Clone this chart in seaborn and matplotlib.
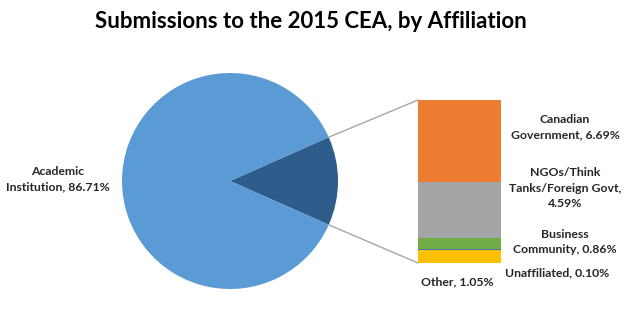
import numpy as np
import pandas as pd
import matplotlib
matplotlib.use("Agg")
import matplotlib.pyplot as plt
from matplotlib.patches import ConnectionPatch
import seaborn as sns

# ---- data ----
pie_labels = ["Other sectors", "Academic Institution"]
pie_values = [13.29, 86.71]

bar_labels = ["Other", "Unaffiliated", "Business Community", "NGOs/Think Tanks/Foreign Govt", "Canadian Government"]
bar_values = [1.05, 0.10, 0.86, 4.59, 6.69]

title = "Submissions to the 2015 CEA, by Affiliation"

# ---- style ----
sns.set_theme(style="white")
plt.rcParams["font.family"] = ["Lato", "DejaVu Sans"]

pie_colors = ["#2E5D8C", "#5B9BD5"]
bar_colors = ["#FFC000", "#4472C4", "#70AD47", "#A5A5A5", "#ED7D31"]

W, H = 640, 309
fig = plt.figure(figsize=(W / 100, H / 100), dpi=100)
fig.patch.set_facecolor("white")

# main axes in pixel coordinates
ax = fig.add_axes([0, 0, 1, 1])
ax.set_xlim(0, W)
ax.set_ylim(0, H)
ax.set_aspect("equal")
ax.axis("off")

cx, cy, r = 230, H - 181, 108
half = pie_values[0] / 100 * 360 / 2
ax.pie(pie_values, colors=pie_colors, startangle=-half, counterclock=True,
       center=(cx, cy), radius=r, wedgeprops=dict(linewidth=0), frame=True)
ax.set_xlim(0, W)
ax.set_ylim(0, H)
ax.axis("off")

# bar-of-pie axes
bl, br, bt, bb = 418, 501, 100, 263
bax = fig.add_axes([bl / W, (H - bb) / H, (br - bl) / W, (bb - bt) / H])
cum = np.cumsum(bar_values)
df = pd.DataFrame({"g": ["x"] * len(bar_values), "cum": cum, "lab": bar_labels})
for i in range(len(bar_values) - 1, -1, -1):
    sns.barplot(data=df.iloc[[i]], x="g", y="cum", color=bar_colors[i],
                width=1.0, ax=bax, saturation=1, linewidth=0)
bax.set_xlim(-0.5, 0.5)
bax.set_ylim(0, cum[-1])
bax.axis("off")

# connector lines
ang = np.deg2rad(half)
for sgn, yb in [(1, cum[-1]), (-1, 0)]:
    pA = (cx + r * np.cos(ang), cy + sgn * r * np.sin(ang))
    con = ConnectionPatch(xyA=pA, coordsA=ax.transData, xyB=(-0.5, yb), coordsB=bax.transData,
                          color="#A6A6A6", linewidth=1.0)
    fig.add_artist(con)

# labels
lab_kw = dict(fontsize=8.8, fontweight="bold", color="#262626", ha="center", va="center", linespacing=1.5)
ax.text(58, H - 179, "Academic\nInstitution, %.2f%%" % pie_values[1], **lab_kw)
ax.text(565, H - 127, "Canadian\nGovernment, %.2f%%" % bar_values[4], **lab_kw)
ax.text(565, H - 188, "NGOs/Think\nTanks/Foreign Govt,\n%.2f%%" % bar_values[3], **lab_kw)
ax.text(565, H - 242, "Business\nCommunity, %.2f%%" % bar_values[2], **lab_kw)
ax.text(557, H - 273, "Unaffiliated, %.2f%%" % bar_values[1], **lab_kw)
ax.text(457, H - 282, "Other, %.2f%%" % bar_values[0], **lab_kw)

ax.text(310.5, H - 22, title, fontsize=16, fontweight="bold", color="black", ha="center", va="center")

fig.savefig("out.png", dpi=100, facecolor="white")
